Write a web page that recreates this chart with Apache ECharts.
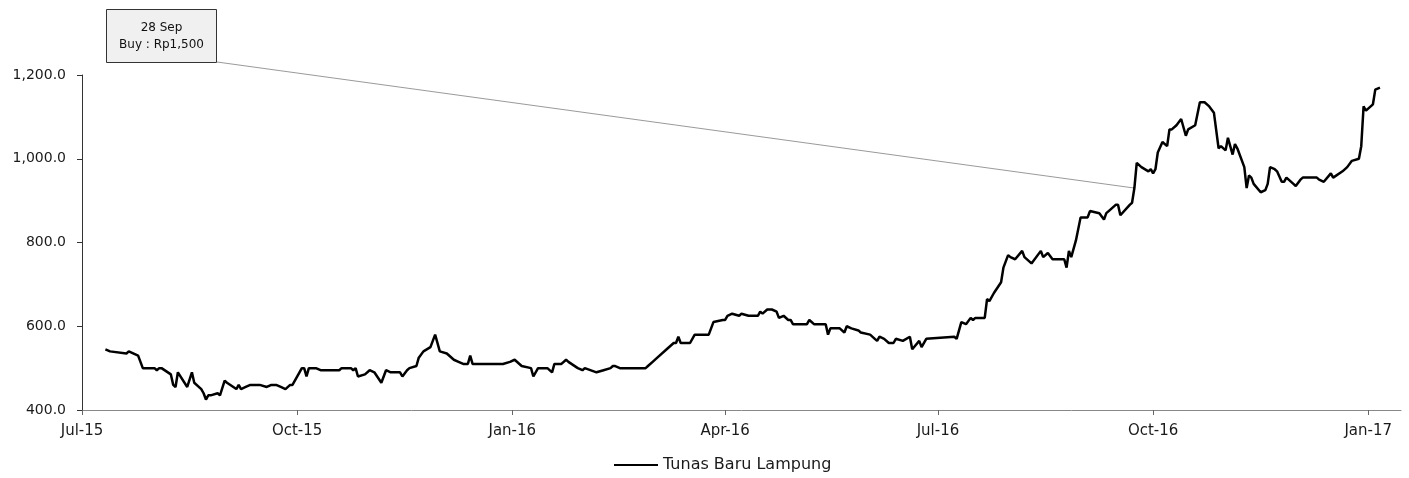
<!DOCTYPE html>
<html>
<head>
<meta charset="utf-8">
<script src="https://cdn.jsdelivr.net/npm/echarts@6/dist/echarts.min.js"></script>
<style>
  html, body { margin: 0; padding: 0; background: #fff; }
  #main { width: 1409px; height: 478px; }
</style>
</head>
<body>
<div id="main"></div>
<script>
// closing price, Tunas Baru Lampung
const seriesName = 'Tunas Baru Lampung';
const priceDates = [
  '2015-07-11', '2015-07-13', '2015-07-20', '2015-07-21', '2015-07-25', '2015-07-26', '2015-07-27', '2015-08-01', '2015-08-02', '2015-08-03',
  '2015-08-04', '2015-08-08', '2015-08-09', '2015-08-10', '2015-08-11', '2015-08-15', '2015-08-17', '2015-08-18', '2015-08-21', '2015-08-22',
  '2015-08-23', '2015-08-24', '2015-08-25', '2015-08-28', '2015-08-29', '2015-08-31', '2015-09-01', '2015-09-05', '2015-09-06', '2015-09-07',
  '2015-09-09', '2015-09-11', '2015-09-15', '2015-09-18', '2015-09-20', '2015-09-22', '2015-09-24', '2015-09-26', '2015-09-28', '2015-09-29',
  '2015-10-02', '2015-10-03', '2015-10-04', '2015-10-05', '2015-10-06', '2015-10-09', '2015-10-11', '2015-10-19', '2015-10-20', '2015-10-24',
  '2015-10-25', '2015-10-26', '2015-10-27', '2015-10-30', '2015-11-01', '2015-11-03', '2015-11-06', '2015-11-08', '2015-11-10', '2015-11-14',
  '2015-11-15', '2015-11-17', '2015-11-18', '2015-11-21', '2015-11-22', '2015-11-24', '2015-11-27', '2015-11-29', '2015-12-01', '2015-12-04',
  '2015-12-07', '2015-12-09', '2015-12-11', '2015-12-13', '2015-12-14', '2015-12-15', '2015-12-28', '2015-12-31', '2016-01-02', '2016-01-05',
  '2016-01-09', '2016-01-10', '2016-01-12', '2016-01-14', '2016-01-16', '2016-01-18', '2016-01-19', '2016-01-22', '2016-01-24', '2016-01-25',
  '2016-01-29', '2016-01-31', '2016-02-01', '2016-02-06', '2016-02-09', '2016-02-12', '2016-02-13', '2016-02-14', '2016-02-16', '2016-02-27',
  '2016-02-28', '2016-03-01', '2016-03-03', '2016-03-07', '2016-03-10', '2016-03-11', '2016-03-12', '2016-03-13', '2016-03-17', '2016-03-19',
  '2016-03-25', '2016-03-27', '2016-03-31', '2016-04-01', '2016-04-02', '2016-04-04', '2016-04-07', '2016-04-08', '2016-04-11', '2016-04-15',
  '2016-04-16', '2016-04-17', '2016-04-19', '2016-04-21', '2016-04-23', '2016-04-24', '2016-04-26', '2016-04-28', '2016-04-29', '2016-04-30',
  '2016-05-06', '2016-05-07', '2016-05-09', '2016-05-14', '2016-05-15', '2016-05-16', '2016-05-20', '2016-05-22', '2016-05-23', '2016-05-25',
  '2016-05-28', '2016-05-29', '2016-06-02', '2016-06-04', '2016-06-05', '2016-06-06', '2016-06-08', '2016-06-10', '2016-06-12', '2016-06-13',
  '2016-06-16', '2016-06-19', '2016-06-20', '2016-06-23', '2016-06-24', '2016-06-26', '2016-07-08', '2016-07-09', '2016-07-11', '2016-07-13',
  '2016-07-15', '2016-07-16', '2016-07-17', '2016-07-21', '2016-07-22', '2016-07-23', '2016-07-25', '2016-07-28', '2016-07-29', '2016-07-31',
  '2016-08-01', '2016-08-03', '2016-08-06', '2016-08-07', '2016-08-10', '2016-08-14', '2016-08-15', '2016-08-17', '2016-08-19', '2016-08-24',
  '2016-08-25', '2016-08-26', '2016-08-27', '2016-08-29', '2016-08-31', '2016-09-03', '2016-09-04', '2016-09-08', '2016-09-10', '2016-09-11',
  '2016-09-12', '2016-09-15', '2016-09-16', '2016-09-17', '2016-09-21', '2016-09-22', '2016-09-23', '2016-09-24', '2016-09-26', '2016-09-29',
  '2016-09-30', '2016-10-01', '2016-10-02', '2016-10-03', '2016-10-05', '2016-10-07', '2016-10-08', '2016-10-09', '2016-10-11', '2016-10-13',
  '2016-10-15', '2016-10-16', '2016-10-19', '2016-10-21', '2016-10-23', '2016-10-25', '2016-10-27', '2016-10-29', '2016-10-30', '2016-11-01',
  '2016-11-02', '2016-11-04', '2016-11-05', '2016-11-06', '2016-11-09', '2016-11-10', '2016-11-11', '2016-11-12', '2016-11-13', '2016-11-16',
  '2016-11-18', '2016-11-19', '2016-11-20', '2016-11-22', '2016-11-23', '2016-11-25', '2016-11-26', '2016-11-27', '2016-11-30', '2016-12-01',
  '2016-12-03', '2016-12-04', '2016-12-10', '2016-12-11', '2016-12-13', '2016-12-16', '2016-12-17', '2016-12-21', '2016-12-23', '2016-12-25',
  '2016-12-28', '2016-12-29', '2016-12-30', '2016-12-31', '2017-01-03', '2017-01-04', '2017-01-06'
];
const priceValues = [
  545, 540, 535, 540, 530, 515, 500, 500, 495, 500,
  500, 485, 460, 455, 490, 455, 490, 465, 450, 440,
  425, 435, 435, 440, 435, 470, 465, 450, 460, 450,
  455, 460, 460, 455, 460, 460, 455, 450, 460, 460,
  490, 500, 500, 480, 500, 500, 495, 495, 500, 500,
  495, 500, 480, 485, 495, 490, 465, 495, 490, 490,
  480, 495, 500, 505, 525, 540, 550, 580, 540, 535,
  520, 515, 510, 510, 530, 510, 510, 515, 520, 505,
  500, 480, 500, 500, 500, 490, 510, 510, 520, 515,
  500, 495, 500, 490, 495, 500, 505, 505, 500, 500,
  505, 515, 525, 545, 560, 560, 575, 560, 560, 580,
  580, 610, 615, 615, 625, 630, 625, 630, 625, 625,
  635, 630, 640, 640, 635, 620, 625, 615, 615, 605,
  605, 615, 605, 605, 580, 595, 595, 585, 600, 595,
  590, 585, 580, 570, 565, 575, 570, 560, 560, 570,
  565, 575, 545, 565, 550, 570, 575, 570, 610, 605,
  620, 615, 620, 620, 665, 660, 680, 705, 740, 770,
  765, 760, 780, 765, 750, 780, 765, 775, 760, 760,
  740, 780, 765, 805, 860, 860, 875, 870, 855, 870,
  875, 890, 890, 865, 890, 895, 930, 990, 980, 970,
  975, 965, 975, 1015, 1040, 1030, 1070, 1070, 1080, 1095,
  1055, 1070, 1080, 1135, 1135, 1125, 1110, 1025, 1030, 1020,
  1050, 1010, 1035, 1025, 980, 930, 960, 955, 940, 920,
  925, 940, 980, 975, 970, 945, 945, 955, 940, 935,
  950, 955, 955, 950, 945, 965, 955, 970, 980, 995,
  1000, 1030, 1125, 1115, 1130, 1165, 1170
];
const tickDates = ['2015-07-01', '2015-10-01', '2016-01-01', '2016-04-01', '2016-07-01', '2016-10-01', '2017-01-01'];
const tickLabels = ['Jul-15', 'Oct-15', 'Jan-16', 'Apr-16', 'Jul-16', 'Oct-16', 'Jan-17'];
const axisStart = '2015-07-01';
const axisEnd = '2017-01-15';
const noteLines = ['28 Sep', 'Buy : Rp1,500'];
const notePoint = ['2016-09-23', 930];

const FONT = '"DejaVu Sans", Verdana, sans-serif';

function toTime(s) {
  const p = s.split('-').map(Number);
  return Date.UTC(p[0], p[1] - 1, p[2]);
}

const tickTimes = tickDates.map(toTime);
const seriesData = priceDates.map((d, i) => [toTime(d), priceValues[i]]);

const chart = echarts.init(document.getElementById('main'), null, { renderer: 'canvas' });

const option = {
  animation: false,
  backgroundColor: '#fff',
  grid: { left: 82, right: 8, top: 75, bottom: 68 },
  legend: {
    data: [{ name: seriesName, icon: 'rect' }],
    left: 614,
    top: 457,
    padding: 0,
    itemWidth: 44,
    itemHeight: 2,
    itemStyle: { color: '#000' },
    textStyle: { fontFamily: FONT, fontSize: 16, color: '#1a1a1a' }
  },
  xAxis: {
    type: 'value',
    min: toTime(axisStart),
    max: toTime(axisEnd),
    splitLine: { show: false },
    axisLine: { lineStyle: { color: '#888', width: 1 } },
    axisTick: { show: true, length: 5, lineStyle: { color: '#666' }, customValues: tickTimes },
    axisLabel: {
      customValues: tickTimes,
      showMinLabel: true,
      showMaxLabel: true,
      margin: 14,
      fontFamily: FONT,
      fontSize: 15,
      color: '#1a1a1a',
      formatter: (val) => {
        const i = tickTimes.indexOf(val);
        return i >= 0 ? tickLabels[i] : '';
      }
    }
  },
  yAxis: {
    type: 'value',
    min: 400,
    max: 1200,
    interval: 200,
    splitLine: { show: false },
    axisLine: { show: true, lineStyle: { color: '#333', width: 1 } },
    axisTick: { show: true, length: 5, lineStyle: { color: '#333' } },
    axisLabel: {
      margin: 16,
      fontFamily: FONT,
      fontSize: 14,
      color: '#1a1a1a',
      formatter: (v) => v.toLocaleString('en-US', { minimumFractionDigits: 1, maximumFractionDigits: 1 })
    }
  },
  series: [
    {
      name: seriesName,
      type: 'line',
      data: seriesData,
      symbol: 'none',
      lineStyle: { color: '#000', width: 2.5 },
      itemStyle: { color: '#000' }
    }
  ]
};

chart.setOption(option);

// annotation box + leader line to the buy point
const pt = chart.convertToPixel({ seriesIndex: 0 }, [toTime(notePoint[0]), notePoint[1]]);
chart.setOption({
  graphic: [
    {
      type: 'line',
      shape: { x1: 217, y1: 62, x2: pt[0], y2: pt[1] },
      style: { stroke: '#9a9a9a', lineWidth: 1 },
      z: 1
    },
    {
      type: 'rect',
      shape: { x: 106.5, y: 9.5, width: 110, height: 53 },
      style: { fill: '#f0f0f0', stroke: '#333', lineWidth: 1 },
      z: 5
    },
    {
      type: 'text',
      x: 161.5, y: 28,
      style: { text: noteLines[0], fontFamily: FONT, fontSize: 12, fill: '#111', align: 'center', verticalAlign: 'middle' },
      z: 6
    },
    {
      type: 'text',
      x: 161.5, y: 45,
      style: { text: noteLines[1], fontFamily: FONT, fontSize: 12, fill: '#111', align: 'center', verticalAlign: 'middle' },
      z: 6
    }
  ]
});
</script>
</body>
</html>
